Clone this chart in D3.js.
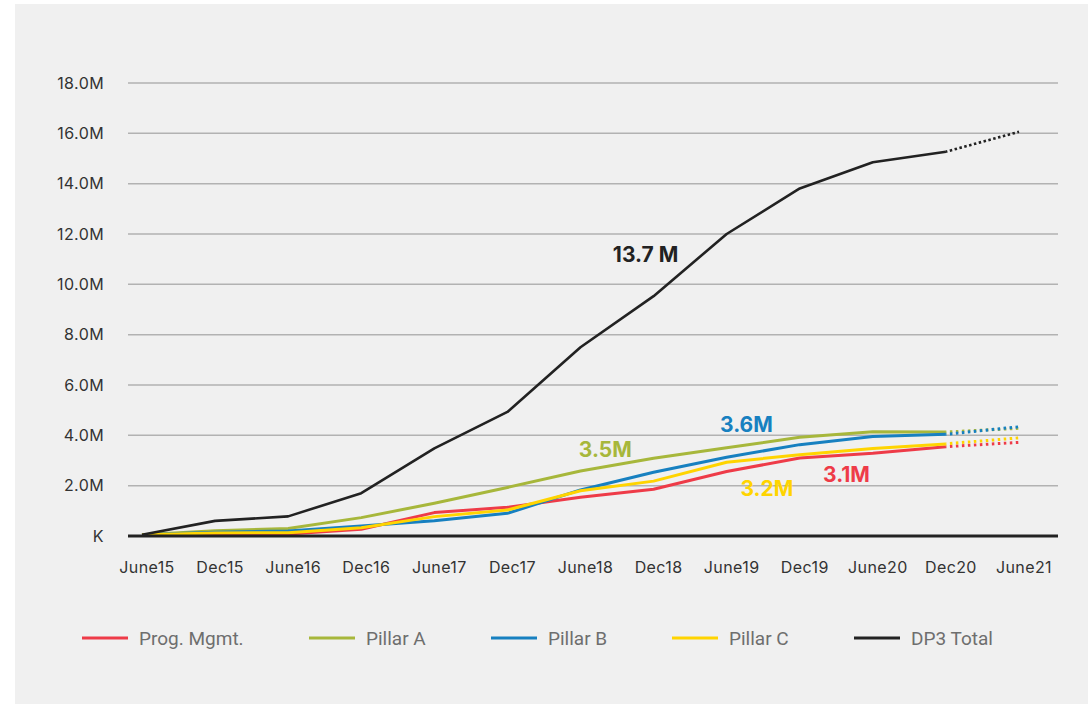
<!DOCTYPE html>
<head>
<meta charset="utf-8">
<script src="https://d3js.org/d3.v7.min.js"></script>
<style>
body { margin:0; background:#fff; }
.tick-y, .tick-x { font-family: Inter, "Open Sans", sans-serif; font-size:16px; fill:#333; letter-spacing:0.4px; }
.note { font-family: Inter, "Open Sans", sans-serif; font-size:21px; font-weight:700; }
.leg { font-family: Roboto, "Noto Sans", sans-serif; font-size:19px; fill:#6e6e6e; }
</style>
</head>
<body>
<div id="chart"></div>
<script>
// data, in millions
var periods = ["June15","Dec15","June16","Dec16","June17","Dec17","June18","Dec18","June19","Dec19","June20","Dec20","June21"];
var yTicks = [0, 2, 4, 6, 8, 10, 12, 14, 16, 18];

var progMgmt = [0.05, 0.10, 0.08, 0.27, 0.93, 1.14, 1.54, 1.86, 2.56, 3.10, 3.29, 3.55];
var pillarA  = [0.05, 0.21, 0.30, 0.73, 1.30, 1.93, 2.58, 3.09, 3.51, 3.92, 4.14, 4.13];
var pillarB  = [0.05, 0.15, 0.20, 0.40, 0.61, 0.90, 1.83, 2.53, 3.13, 3.63, 3.95, 4.04];
var pillarC  = [0.05, 0.12, 0.13, 0.33, 0.77, 1.03, 1.80, 2.18, 2.93, 3.23, 3.48, 3.66];
var dp3Total = [0.05, 0.60, 0.78, 1.70, 3.48, 4.93, 7.50, 9.53, 12.0, 13.81, 14.85, 15.27];
// projected June21 values (dotted)
var projJune21 = { progMgmt: 3.72, pillarA: 4.28, pillarB: 4.34, pillarC: 3.90, dp3Total: 16.06 };

var seriesNames = ["Prog. Mgmt.", "Pillar A", "Pillar B", "Pillar C", "DP3 Total"];
var seriesKeys = ["progMgmt", "pillarA", "pillarB", "pillarC", "dp3Total"];
var seriesColors = ["#ee3b48", "#a7b73b", "#1780c0", "#ffd400", "#222222"];

// call-out labels: text, position in period index / value
var notes = [
  { text: "13.7 M", at: 6.89, v: 10.89, color: "#222222" },
  { text: "3.6M",   at: 8.27, v: 4.14,  color: "#1780c0" },
  { text: "3.5M",   at: 6.34, v: 3.15,  color: "#a7b73b" },
  { text: "3.2M",   at: 8.55, v: 1.60,  color: "#ffd400" },
  { text: "3.1M",   at: 9.64, v: 2.16,  color: "#ee3b48" }
];

var seriesData = { progMgmt: progMgmt, pillarA: pillarA, pillarB: pillarB, pillarC: pillarC, dp3Total: dp3Total };

var W = 1088, H = 704;
var svg = d3.select("#chart").append("svg").attr("width", W).attr("height", H);

svg.append("rect").attr("x", 15).attr("y", 4).attr("width", W - 15).attr("height", H - 4).attr("fill", "#f0f0f0");

var x = d3.scalePoint().domain(periods).range([142, 1019]);
var xi = d3.scaleLinear().domain([0, periods.length - 1]).range([142, 1019]);
var y = d3.scaleLinear().domain([0, 18]).range([536, 83]);

var gridL = 128, gridR = 1058;

// gridlines
svg.append("g").selectAll("line").data(yTicks.filter(function(d){ return d > 0; }))
  .enter().append("line")
  .attr("x1", gridL).attr("x2", gridR)
  .attr("y1", function(d){ return y(d); }).attr("y2", function(d){ return y(d); })
  .attr("stroke", "#b2b2b2").attr("stroke-width", 1.5);

// y labels
svg.append("g").selectAll("text").data(yTicks).enter().append("text")
  .attr("class", "tick-y")
  .attr("x", 104).attr("y", function(d){ return y(d); })
  .attr("dy", "0.36em")
  .attr("text-anchor", "end")
  .text(function(d){ return d === 0 ? "K" : d.toFixed(1) + "M"; });

// x labels
svg.append("g").selectAll("text").data(periods).enter().append("text")
  .attr("class", "tick-x")
  .attr("x", function(d){ return x(d) + 5; }).attr("y", 573)
  .attr("text-anchor", "middle")
  .text(function(d){ return d; });

var line = d3.line()
  .x(function(d){ return x(d.p); })
  .y(function(d){ return y(d.v); });

// draw lines
seriesKeys.forEach(function(k, i){
  var vals = seriesData[k];
  var pts = vals.map(function(v, j){ return { p: periods[j], v: v }; });
  var isTotal = k === "dp3Total";
  svg.append("path").datum(pts)
    .attr("d", line)
    .attr("fill", "none")
    .attr("stroke", seriesColors[i])
    .attr("stroke-width", isTotal ? 2.6 : 3)
    .attr("stroke-linejoin", "round");
  var proj = [{ p: periods[vals.length - 1], v: vals[vals.length - 1] }, { p: periods[vals.length], v: projJune21[k] }];
  svg.append("path").datum(proj)
    .attr("d", line)
    .attr("fill", "none")
    .attr("stroke", seriesColors[i])
    .attr("stroke-width", isTotal ? 2.6 : 3)
    .attr("stroke-dasharray", isTotal ? "2.5,2.5" : "2.5,3.5")
    .attr("stroke-dashoffset", -4);
});

// zero axis line
svg.append("line").attr("x1", gridL).attr("x2", gridR).attr("y1", y(0)).attr("y2", y(0))
  .attr("stroke", "#222").attr("stroke-width", 3);

// call-outs
svg.append("g").selectAll("text").data(notes).enter().append("text")
  .attr("class", "note")
  .attr("x", function(d){ return xi(d.at); })
  .attr("y", function(d){ return y(d.v); })
  .attr("text-anchor", "middle")
  .attr("fill", function(d){ return d.color; })
  .text(function(d){ return d.text; });

// legend
var legX = [82, 309, 491, 672, 854];
var leg = svg.append("g").selectAll("g").data(seriesNames).enter().append("g")
  .attr("transform", function(d, i){ return "translate(" + legX[i] + ",638)"; });
leg.append("line").attr("x1", 0).attr("x2", 46).attr("y1", 0).attr("y2", 0)
  .attr("stroke", function(d, i){ return seriesColors[i]; }).attr("stroke-width", 3);
leg.append("text").attr("class", "leg").attr("x", 57).attr("y", 0).attr("dy", "0.35em")
  .text(function(d){ return d; });
</script>
</body>
